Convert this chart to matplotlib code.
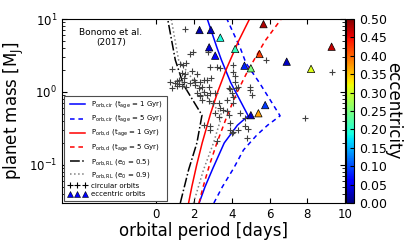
import matplotlib
matplotlib.use("Agg")
import matplotlib.pyplot as plt
import numpy as np
from matplotlib.lines import Line2D

# tidal / Roche-limit curves (mass in M_J, period in days)
d_mass = [0.03, 0.05, 0.1, 0.2, 0.5, 1.0, 2.0, 5.0, 10.0]
d_1gyr = [1.71, 1.88, 2.14, 2.43, 2.87, 3.25, 3.69, 4.36, 4.94]
d_5gyr = [2.26, 2.48, 2.82, 3.21, 3.79, 4.29, 4.87, 5.76, 6.62]

cir1_mass = [0.03, 0.05, 0.09, 0.2, 0.35, 0.47, 1.33, 2.74, 4.0, 10.0]
cir1_per = [2.27, 2.58, 3.0, 3.6, 4.3, 4.87, 3.95, 3.45, 3.22, 2.70]
cir5_mass = [0.03, 0.05, 0.09, 0.16, 0.257, 0.35, 0.47, 1.33, 2.49, 4.0, 10.0]
cir5_per = [3.05, 3.5, 4.1, 4.62, 5.33, 5.9, 6.56, 5.47, 4.75, 4.45, 3.74]

rl05_mass = [0.03, 0.0855, 0.2, 0.48, 1.25, 2.74, 10.0]
rl05_per = [1.27, 1.71, 2.15, 2.42, 1.44, 1.005, 0.6]
rl09_mass = [0.03, 0.0855, 0.2, 0.48, 1.33, 2.74, 10.0]
rl09_per = [1.97, 2.50, 3.03, 3.48, 2.06, 1.18, 0.79]

# circular orbits
circ_per = [1.51, 1.80, 1.94, 2.75, 0.83, 1.40, 1.27, 1.59, 1.36, 1.53,
            1.89, 2.17, 2.86, 3.21, 4.09, 4.09, 4.18, 2.91, 1.10, 1.44,
            2.06, 2.33, 1.80, 2.50, 3.39, 5.80, 9.30, 7.88, 4.97, 5.06,
            3.88, 4.23, 3.74, 4.09, 4.71, 4.88, 4.80, 4.35, 4.04, 3.24,
            2.86, 1.01, 1.18, 0.83, 1.36, 1.59, 1.97, 2.06, 2.24, 2.42,
            2.50, 2.15, 2.33, 2.68, 2.86, 3.12, 3.83, 4.00, 2.77, 3.03,
            3.30, 3.39, 3.56, 3.74, 3.83, 3.12, 3.30, 4.44, 3.92, 2.50,
            4.00, 0.74, 2.42, 4.35, 4.97, 4.09, 3.92, 2.68, 2.77, 1.10,
            1.44, 1.18, 4.18, 4.71, 2.86, 2.33]
circ_mass = [7.3, 3.36, 3.53, 3.5, 2.05, 2.34, 2.42, 2.48, 1.82, 1.77,
             1.94, 1.74, 2.22, 2.18, 2.34, 1.90, 1.63, 1.54, 1.41, 1.54,
             1.39, 1.39, 1.32, 1.46, 2.11, 2.74, 1.90, 0.44, 1.06, 0.91,
             1.09, 1.12, 0.78, 0.86, 0.44, 0.31, 0.23, 0.30, 0.28, 0.21,
             0.34, 1.32, 1.29, 1.12, 1.21, 1.18, 1.46, 1.25, 1.12, 1.18,
             1.00, 0.96, 0.91, 0.91, 0.96, 0.96, 1.12, 0.96, 0.74, 0.70,
             0.70, 0.60, 0.57, 0.54, 0.48, 0.51, 0.46, 0.51, 0.30, 0.35,
             0.27, 1.39, 0.78, 1.18, 1.18, 0.70, 0.37, 1.46, 1.18, 1.21,
             1.39, 1.46, 1.39, 0.34, 0.30, 0.88]

# eccentric orbits
ecc_per = [2.29, 2.89, 3.39, 2.80, 3.12, 4.18, 4.67, 5.01, 5.47, 5.68,
           9.29, 6.91, 8.20, 5.77, 5.41, 5.01]
ecc_mass = [7.06, 7.06, 5.55, 4.09, 3.14, 3.88, 2.29, 2.11, 3.31, 8.5,
            4.17, 2.6, 2.07, 0.66, 0.51, 0.48]
ecc_e = [0.02, 0.03, 0.19, 0.04, 0.06, 0.21, 0.08, 0.25, 0.42, 0.48,
         0.47, 0.03, 0.31, 0.09, 0.37, 0.03]

plt.rcParams['xtick.direction'] = 'in'
plt.rcParams['ytick.direction'] = 'in'
plt.rcParams['xtick.top'] = True
plt.rcParams['ytick.right'] = True

fig = plt.figure(figsize=(4.15, 2.49), dpi=100)
ax = fig.add_axes([62/415, 1 - 203/249, 283/415, 184/249])
cax = fig.add_axes([346/415, 1 - 203/249, 8/415, 184/249])

lw = 1.1
dash = (3, 2.5)
ax.plot(cir1_per, cir1_mass, color='b', ls='-', lw=lw)
ax.plot(cir5_per, cir5_mass, color='b', ls='--', dashes=dash, lw=lw)
ax.plot(d_1gyr, d_mass, color='r', ls='-', lw=lw)
ax.plot(d_5gyr, d_mass, color='r', ls='--', dashes=dash, lw=lw)
ax.plot(rl05_per, rl05_mass, color='k', ls='-.', lw=lw)
ax.plot(rl09_per, rl09_mass, color='0.5', ls=':', lw=lw)

ax.plot(circ_per, circ_mass, ls='none', marker='+', ms=5, mew=0.8, color='0.25')
sc = ax.scatter(ecc_per, ecc_mass, c=ecc_e, cmap='jet', vmin=0, vmax=0.5,
                marker='^', s=28, edgecolors='k', linewidths=0.5, zorder=5)

ax.set_yscale('log')
ax.set_xlim(-5, 10)
ax.set_ylim(0.03, 10)
ax.set_xticks([0, 2, 4, 6, 8, 10])
ax.tick_params(labelsize=8.5)
ax.set_xlabel('orbital period [days]', fontsize=12, labelpad=1)
ax.set_ylabel(r'planet mass [M$_{\rm J}$]', fontsize=12, labelpad=2)

ax.text(-2.4, 5.6, 'Bonomo et al.\n(2017)', ha='center', va='center',
        fontsize=6.5, linespacing=1.1)

handles = [
    Line2D([], [], color='b', ls='-', lw=lw),
    Line2D([], [], color='b', ls='--', dashes=dash, lw=lw),
    Line2D([], [], color='r', ls='-', lw=lw),
    Line2D([], [], color='r', ls='--', dashes=dash, lw=lw),
    Line2D([], [], color='k', ls='-.', lw=lw),
    Line2D([], [], color='0.5', ls=':', lw=lw),
    Line2D([], [], ls='none', marker='+', ms=4, mew=0.8, color='k'),
    Line2D([], [], ls='none', marker='^', ms=4.5, mec='k', mew=0.4, color='b'),
]
labels = [
    r'P$_{\rm orb,cir}$ (t$_{\rm age}$ = 1 Gyr)',
    r'P$_{\rm orb,cir}$ (t$_{\rm age}$ = 5 Gyr)',
    r'P$_{\rm orb,d}$ (t$_{\rm age}$ = 1 Gyr)',
    r'P$_{\rm orb,d}$ (t$_{\rm age}$ = 5 Gyr)',
    r'P$_{\rm orb,RL}$ (e$_0$ = 0.5)',
    r'P$_{\rm orb,RL}$ (e$_0$ = 0.9)',
    'circular orbits',
    'eccentric orbits',
]
leg = ax.legend(handles, labels, loc='lower left', fontsize=5, numpoints=3,
                fancybox=False, framealpha=1, edgecolor='0.3',
                borderaxespad=0.3, labelspacing=0.42, handlelength=2.8,
                handletextpad=0.6, borderpad=0.5)
leg.get_frame().set_linewidth(0.8)

cb = fig.colorbar(sc, cax=cax, ticks=np.arange(0, 0.501, 0.05))
cb.ax.set_yticklabels(['%.2f' % t for t in np.arange(0, 0.501, 0.05)])
cb.ax.tick_params(labelsize=9, direction='in', length=3)
cb.set_label('eccentricity', fontsize=12, rotation=270, labelpad=11)

fig.savefig('out.png', dpi=100)
